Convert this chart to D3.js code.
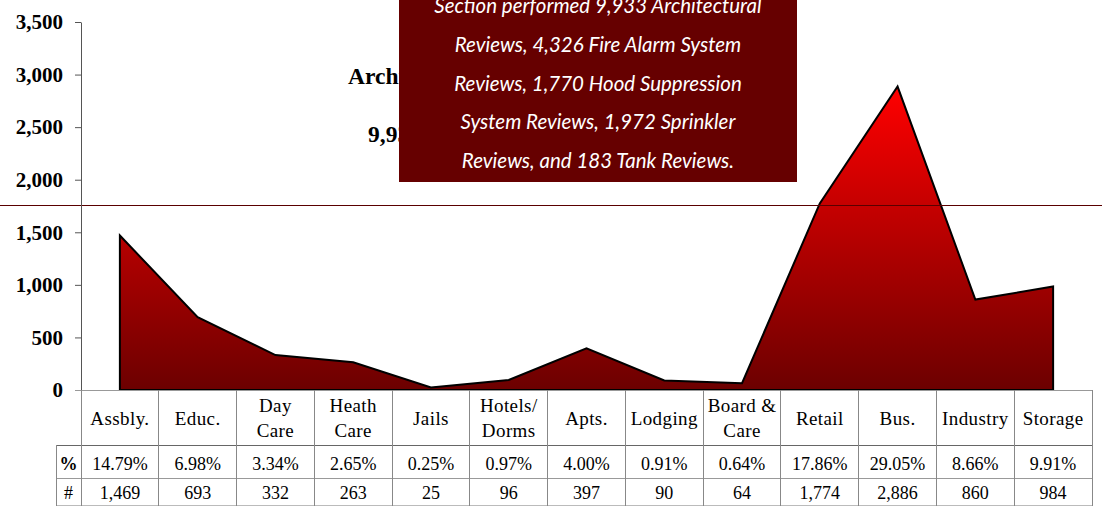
<!DOCTYPE html>
<html>
<head>
<meta charset="utf-8">
<script src="https://cdnjs.cloudflare.com/ajax/libs/d3/7.8.5/d3.min.js"></script>
<style>
body { margin: 0; background: #fff; }
svg { display: block; }
.axis text { font-family: "Liberation Serif", "Times New Roman", serif; font-weight: bold; font-size: 21px; fill: #000; }
.cell { font-family: "Liberation Serif", "Times New Roman", serif; font-size: 18px; fill: #000; }
.head { font-size: 19px; letter-spacing: 0.4px; }
.title { font-family: "Liberation Serif", "Times New Roman", serif; font-weight: bold; font-size: 23.5px; fill: #000; }
.note { font-family: Lato, "Open Sans", sans-serif; font-style: italic; font-size: 20.5px; fill: #fff; }
</style>
</head>
<body>
<svg width="1102" height="506"></svg>
<script>
// occupancy categories (header lines as shown in the table)
var categories = ["Assbly.", "Educ.", "Day Care", "Heath Care", "Jails", "Hotels/ Dorms", "Apts.", "Lodging", "Board & Care", "Retail", "Bus.", "Industry", "Storage"];
var headerLines = [["Assbly."], ["Educ."], ["Day", "Care"], ["Heath", "Care"], ["Jails"], ["Hotels/", "Dorms"], ["Apts."], ["Lodging"], ["Board &", "Care"], ["Retail"], ["Bus."], ["Industry"], ["Storage"]];
var reviews = [1469, 693, 332, 263, 25, 96, 397, 90, 64, 1774, 2886, 860, 984];
var percents = ["14.79%", "6.98%", "3.34%", "2.65%", "0.25%", "0.97%", "4.00%", "0.91%", "0.64%", "17.86%", "29.05%", "8.66%", "9.91%"];
var yTicks = [0, 500, 1000, 1500, 2000, 2500, 3000, 3500];
var titleLines = ["Architectural", "9,933"];
var noteLines = [
    "Section performed 9,933 Architectural",
    "Reviews, 4,326 Fire Alarm System",
    "Reviews, 1,770 Hood Suppression",
    "System Reviews, 1,972 Sprinkler",
    "Reviews, and 183 Tank Reviews."
];

var svg = d3.select("svg"),
    width = +svg.attr("width"),
    height = +svg.attr("height");

var data = categories.map(function(c, i) { return { cat: c, v: reviews[i], pct: percents[i], lines: headerLines[i] }; });

var x = d3.scaleBand().domain(categories).range([81, 1092]);
var y = d3.scaleLinear().domain([0, 3500]).range([390, 22]);
var cx = function(d) { return x(d.cat) + x.bandwidth() / 2; };

var defs = svg.append("defs");
var grad = defs.append("linearGradient")
    .attr("id", "areaFill")
    .attr("gradientUnits", "userSpaceOnUse")
    .attr("x1", 0).attr("x2", 0)
    .attr("y1", y(d3.max(reviews))).attr("y2", y(0));
grad.append("stop").attr("offset", 0).attr("stop-color", "#ff0000");
grad.append("stop").attr("offset", 1).attr("stop-color", "#6c0000");

defs.append("clipPath").attr("id", "titleClip")
    .append("rect").attr("x", 0).attr("y", 0).attr("width", 399).attr("height", height);

// title (mostly hidden behind the note box)
svg.append("g").attr("clip-path", "url(#titleClip)")
    .selectAll("text")
    .data(titleLines)
    .enter().append("text")
    .attr("class", "title")
    .attr("x", function(d, i) { return i ? 368 : 348; })
    .attr("y", function(d, i) { return i ? 142 : 84; })
    .text(function(d) { return d; });

// area
var area = d3.area()
    .x(cx)
    .y0(y(0))
    .y1(function(d) { return y(d.v); });

svg.append("path")
    .datum(data)
    .attr("d", function(d) { return area(d) + "Z"; })
    .attr("fill", "url(#areaFill)")
    .attr("stroke", "#000")
    .attr("stroke-width", 2)
    .attr("stroke-linejoin", "miter");

// reference line across the chart
svg.append("line")
    .attr("x1", 0).attr("x2", width)
    .attr("y1", 205.5).attr("y2", 205.5)
    .attr("stroke", "#5a0000")
    .attr("stroke-width", 1.2);

// y axis
var yAxis = svg.append("g")
    .attr("class", "axis")
    .attr("transform", "translate(81,0)")
    .call(d3.axisLeft(y).tickValues(yTicks).tickFormat(d3.format(",")).tickSize(6).tickSizeOuter(0).tickPadding(12));
yAxis.select(".domain").attr("stroke", "#555");
yAxis.selectAll(".tick line").attr("stroke", "#555");

// table grid
var grid = svg.append("g").attr("shape-rendering", "crispEdges");
var tableRight = x.range()[1];
var hLines = [
    { y: 390, x0: 75, c: "#999" },
    { y: 445, x0: 56, c: "#666" },
    { y: 478, x0: 56, c: "#999" },
    { y: 505, x0: 56, c: "#bbb" }
];
grid.selectAll(".hl")
    .data(hLines)
    .enter().append("line")
    .attr("class", "hl")
    .attr("x1", function(d) { return d.x0; })
    .attr("x2", tableRight)
    .attr("y1", function(d) { return d.y; })
    .attr("y2", function(d) { return d.y; })
    .attr("stroke", function(d) { return d.c; });

var bounds = categories.map(function(c) { return x(c); }).concat([tableRight]);
grid.selectAll(".vl")
    .data(bounds)
    .enter().append("line")
    .attr("class", "vl")
    .attr("x1", function(d) { return d; })
    .attr("x2", function(d) { return d; })
    .attr("y1", 390).attr("y2", height)
    .attr("stroke", "#888");
grid.append("line")
    .attr("x1", 56).attr("x2", 56)
    .attr("y1", 445).attr("y2", height)
    .attr("stroke", "#888");

// header cells
var head = svg.append("g").selectAll("g")
    .data(data)
    .enter().append("g")
    .attr("transform", function(d) { return "translate(" + cx(d) + ",0)"; });
head.selectAll("text")
    .data(function(d) { return d.lines.map(function(t, i) { return { t: t, i: i, n: d.lines.length }; }); })
    .enter().append("text")
    .attr("class", "cell head")
    .attr("text-anchor", "middle")
    .attr("y", function(d) { return d.n === 1 ? 425 : 412 + d.i * 25; })
    .text(function(d) { return d.t; });

// % row and # row
svg.append("g").selectAll("text")
    .data(data)
    .enter().append("text")
    .attr("class", "cell")
    .attr("text-anchor", "middle")
    .attr("x", cx)
    .attr("y", 470)
    .text(function(d) { return d.pct; });

svg.append("g").selectAll("text")
    .data(data)
    .enter().append("text")
    .attr("class", "cell")
    .attr("text-anchor", "middle")
    .attr("x", cx)
    .attr("y", 499)
    .text(function(d) { return d3.format(",")(d.v); });

svg.append("text").attr("class", "cell").attr("text-anchor", "middle")
    .attr("x", 68.5).attr("y", 470).attr("font-weight", "bold").text("%");
svg.append("text").attr("class", "cell").attr("text-anchor", "middle")
    .attr("x", 68.5).attr("y", 499).text("#");

// note box
svg.append("rect")
    .attr("x", 399).attr("y", 0)
    .attr("width", 398).attr("height", 182)
    .attr("fill", "#660000");

svg.append("g").selectAll("text")
    .data(noteLines)
    .enter().append("text")
    .attr("class", "note")
    .attr("text-anchor", "middle")
    .attr("x", 598)
    .attr("y", function(d, i) { return 13 + i * 38.75; })
    .text(function(d) { return d; });
</script>
</body>
</html>
